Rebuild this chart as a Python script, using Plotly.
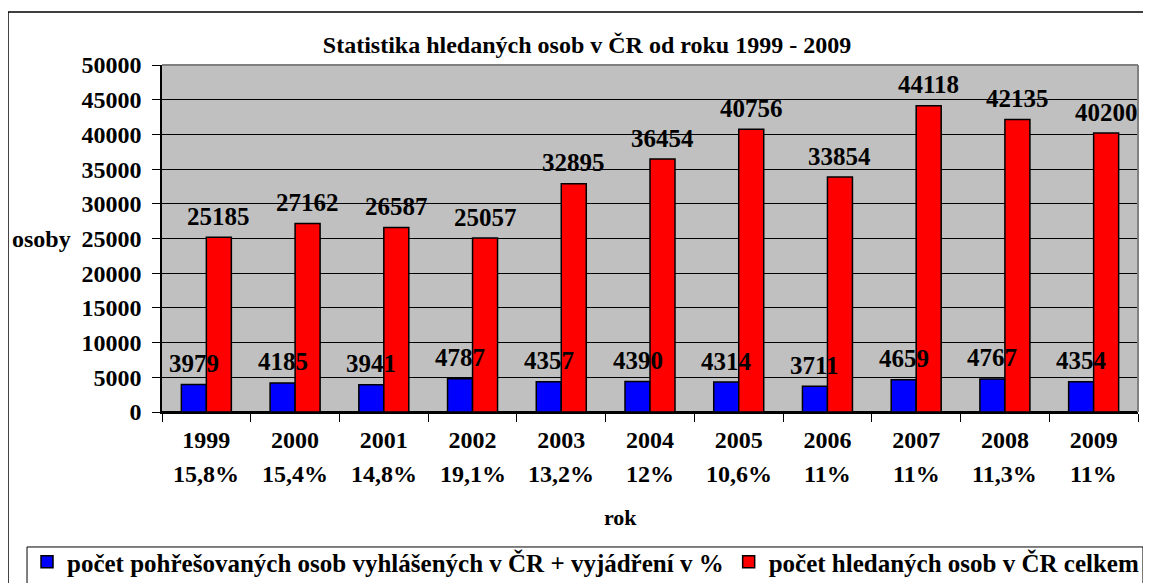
"""
Statistika hledaných osob v ČR 1999 - 2009 (sloupcový graf)
"""
import plotly.graph_objects as go

years = ["1999", "2000", "2001", "2002", "2003", "2004", "2005", "2006", "2007", "2008", "2009"]
pohresovane = [3979, 4185, 3941, 4787, 4357, 4390, 4314, 3711, 4659, 4767, 4354]
hledane = [25185, 27162, 26587, 25057, 32895, 36454, 40756, 33854, 44118, 42135, 40200]
procenta = ["15,8%", "15,4%", "14,8%", "19,1%", "13,2%", "12%", "10,6%", "11%", "11%", "11,3%", "11%"]

FONT = "Liberation Serif"
BAR_PX = 12.5  # půlka šířky sloupce v px
PAGE = 8       # okraj stránky (body margin) v prohlížeči


def bold(size):
    return dict(size=size, family=FONT, color="black", weight="bold")


fig = go.Figure()

fig.add_trace(go.Bar(
    x=years, y=pohresovane,
    name="počet pohřešovaných osob vyhlášených v ČR + vyjádření v %",
    marker=dict(color="#0000FF", line=dict(color="black", width=1.5)),
))
fig.add_trace(go.Bar(
    x=years, y=hledane,
    name="počet hledaných osob v ČR celkem",
    marker=dict(color="#FF0000", line=dict(color="black", width=1.5)),
))

annotations = []
# popisky hodnot nad sloupci (x = index kategorie)
for i, (b, r) in enumerate(zip(pohresovane, hledane)):
    annotations.append(dict(x=i, y=b, xref="x", yref="y", text=str(b), showarrow=False,
                            xshift=-BAR_PX, yshift=21, yanchor="middle", font=bold(25)))
    annotations.append(dict(x=i, y=r, xref="x", yref="y", text=str(r), showarrow=False,
                            xshift=BAR_PX, yshift=21, yanchor="middle", font=bold(25)))
# procenta pod roky
for i, p in enumerate(procenta):
    annotations.append(dict(x=i, y=0, xref="x", yref="paper", text=p, showarrow=False,
                            yshift=-62, yanchor="middle", font=bold(24)))

annotations.append(dict(x=-0.1557, y=25000, xref="paper", yref="y", text="osoby", showarrow=False,
                        xanchor="left", yanchor="middle", font=bold(24)))
annotations.append(dict(x=0.470, y=-0.3026, xref="paper", yref="paper", text="rok", showarrow=False,
                        xanchor="center", yanchor="middle", font=bold(22)))

shapes = [
    # vnější rámeček
    dict(type="rect", xref="paper", yref="paper", x0=-0.1578, x1=1.05, y0=-0.8, y1=1.1527,
         line=dict(color="black", width=1.5), fillcolor="rgba(0,0,0,0)", layer="below"),
    # rámeček legendy
    dict(type="rect", xref="paper", yref="paper", x0=-0.1383, x1=1.0051, y0=-0.7, y1=-0.389,
         line=dict(color="black", width=1), fillcolor="white", layer="below"),
    # šedý okraj plochy grafu
    dict(type="line", xref="paper", yref="paper", x0=0, x1=1, y0=1, y1=1,
         line=dict(color="#808080", width=2)),
    dict(type="line", xref="paper", yref="paper", x0=1, x1=1, y0=0, y1=1,
         line=dict(color="#808080", width=2)),
]

fig.update_layout(
    width=1151, height=583,
    margin=dict(l=162 - PAGE, r=13 + PAGE, t=65 - PAGE, b=171 + PAGE, autoexpand=False),
    paper_bgcolor="white",
    plot_bgcolor="#C0C0C0",
    font=bold(22),
    title=dict(text="Statistika hledaných osob v ČR od roku 1999 - 2009",
               x=(587 - PAGE) / 1151, xanchor="center", y=1 - (45 - PAGE) / 583, yanchor="middle",
               font=bold(24)),
    barmode="group",
    bargap=0.4365,
    bargroupgap=0,
    showlegend=True,
    legend=dict(orientation="h", x=-0.1383, xanchor="left", y=-0.366, yanchor="top",
                borderwidth=0, bgcolor="rgba(0,0,0,0)",
                font=bold(25), traceorder="normal"),
    annotations=annotations,
    shapes=shapes,
)

fig.update_xaxes(
    type="category", range=[-0.5, len(years) - 0.5],
    showline=True, linecolor="black", linewidth=1.5,
    ticks="outside", ticklen=8, tickcolor="black", tickson="boundaries",
    tickfont=bold(24), ticklabelstandoff=5,
    showgrid=False,
)
fig.update_yaxes(
    range=[0, 50000], dtick=5000,
    showline=True, linecolor="black", linewidth=1.5,
    ticks="outside", ticklen=8, tickcolor="black",
    tickfont=bold(24), ticklabelstandoff=6,
    showgrid=True, gridcolor="black", gridwidth=1,
    zeroline=True, zerolinecolor="black",
    tickformat="d",
)

fig.write_html("out.html")
